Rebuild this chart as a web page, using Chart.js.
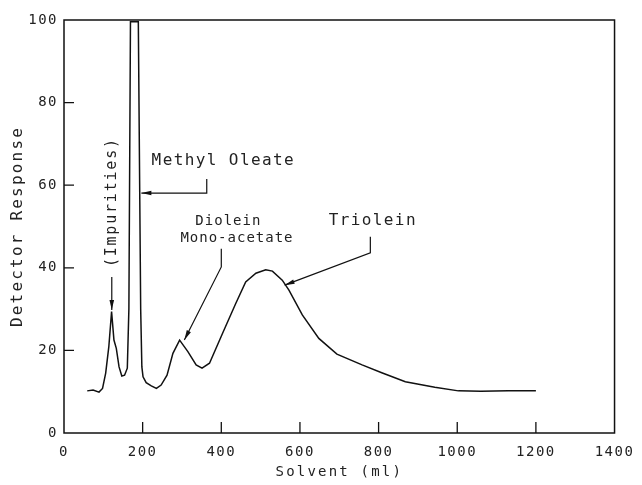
<!DOCTYPE html>
<html><head><meta charset="utf-8">
<script src="https://cdn.jsdelivr.net/npm/chart.js@4.4.0/dist/chart.umd.min.js"></script>
<style>html,body{margin:0;padding:0;background:#fff}#wrap{width:642px;height:485px}</style>
</head><body><div id="wrap"><canvas id="c" width="642" height="485"></canvas></div>
<script>
// ---- data ----
const solventMl = [59, 74, 89, 98, 106, 114, 121, 127, 133, 140, 147, 154, 161, 165, 169, 189, 195, 198, 201, 209, 222, 235, 247, 262, 277, 294, 315, 336, 351, 370, 403, 437, 462, 488, 513, 530, 555, 572, 606, 648, 694, 758, 808, 868, 943, 1003, 1060, 1130, 1200];
const detectorResponse = [10.2, 10.4, 9.9, 10.8, 14.5, 20.9, 29.4, 22.5, 20.5, 16, 13.8, 14, 15.7, 30, 99.6, 99.6, 30, 16, 13.6, 12.2, 11.4, 10.8, 11.6, 14, 19.3, 22.5, 19.7, 16.5, 15.7, 16.9, 24.1, 31.4, 36.6, 38.7, 39.5, 39.2, 37, 34.6, 28.6, 22.9, 19.1, 16.5, 14.6, 12.4, 11.1, 10.2, 10.1, 10.2, 10.2];
const xTickValues = [0, 200, 400, 600, 800, 1000, 1200, 1400];
const yTickValues = [0, 20, 40, 60, 80, 100];
const xAxisTitle = 'Solvent (ml)';
const yAxisTitle = 'Detector Response';
const peakLabels = ['(Impurities)', 'Methyl Oleate', 'Diolein', 'Mono-acetate', 'Triolein'];

// ---- annotation layout (in data units) ----
const MONO = '"DejaVu Sans Mono", "Liberation Mono", monospace';
const INK = '#111';
const TEXT = '#222';
const annotations = [
  {text: peakLabels[0], x: 121.5, y: 55.9, rotate: true, size: 15, spacing: 1.8,
   path: [[121.5, 37.8], [121.5, 29.8]]},
  {text: peakLabels[1], x: 222.8, y: 65.9, size: 16, spacing: 1.4,
   path: [[363, 61.5], [363, 58.1], [196.7, 58.1]]},
  {text: peakLabels[2], x: 334, y: 51.3, size: 14, spacing: 1.0,
   path: [[400, 44.6], [400, 40.2], [306, 22.5]]},
  {text: peakLabels[3], x: 296, y: 47.2, size: 14, spacing: 1.0},
  {text: peakLabels[4], x: 673, y: 51.3, size: 16, spacing: 1.4,
   path: [[779, 47.5], [779, 43.6], [561, 35.8]]}
];

const spacingPlugin = {
  id: 'spacing',
  beforeDraw(chart) { chart.ctx.letterSpacing = '2.2px'; },
  afterDatasetsDraw(chart) { chart.ctx.letterSpacing = '1.5px'; },
  afterDraw(chart) { chart.ctx.letterSpacing = '0px'; }
};

const framePlugin = {
  id: 'frame',
  afterDraw(chart) {
    const {ctx, chartArea: a, scales: {x, y}} = chart;
    ctx.save();
    ctx.letterSpacing = '0px';
    ctx.strokeStyle = INK;
    ctx.lineWidth = 1.5;
    ctx.strokeRect(a.left, a.top, a.right - a.left, a.bottom - a.top);
    ctx.lineWidth = 1.3;
    ctx.beginPath();
    xTickValues.slice(1, -1).forEach(v => {
      const px = x.getPixelForValue(v);
      ctx.moveTo(px, a.bottom); ctx.lineTo(px, a.bottom - 11);
    });
    yTickValues.slice(1, -1).forEach(v => {
      const py = y.getPixelForValue(v);
      ctx.moveTo(a.left, py); ctx.lineTo(a.left + 10, py);
    });
    ctx.stroke();

    // annotations
    annotations.forEach(an => {
      const tx = x.getPixelForValue(an.x), ty = y.getPixelForValue(an.y);
      ctx.save();
      ctx.fillStyle = TEXT;
      ctx.font = an.size + 'px ' + MONO;
      ctx.letterSpacing = an.spacing + 'px';
      ctx.textBaseline = 'middle';
      if (an.rotate) {
        ctx.translate(tx, ty);
        ctx.rotate(-Math.PI / 2);
        ctx.textAlign = 'center';
        ctx.fillText(an.text, 0, 0);
      } else {
        ctx.textAlign = 'left';
        ctx.fillText(an.text, tx, ty);
      }
      ctx.restore();
      if (an.path) {
        const pts = an.path.map(p => [x.getPixelForValue(p[0]), y.getPixelForValue(p[1])]);
        ctx.beginPath();
        ctx.moveTo(pts[0][0], pts[0][1]);
        pts.slice(1).forEach(p => ctx.lineTo(p[0], p[1]));
        ctx.lineWidth = 1.2;
        ctx.stroke();
        const [ex, ey] = pts[pts.length - 1];
        const [sx, sy] = pts[pts.length - 2];
        const ang = Math.atan2(ey - sy, ex - sx);
        const L = 10, W = 2.3;
        ctx.beginPath();
        ctx.moveTo(ex, ey);
        ctx.lineTo(ex - L * Math.cos(ang) + W * Math.sin(ang), ey - L * Math.sin(ang) - W * Math.cos(ang));
        ctx.lineTo(ex - L * Math.cos(ang) - W * Math.sin(ang), ey - L * Math.sin(ang) + W * Math.cos(ang));
        ctx.closePath();
        ctx.fillStyle = INK;
        ctx.fill();
      }
    });
    ctx.restore();
  }
};

new Chart(document.getElementById('c'), {
  type: 'scatter',
  data: {
    datasets: [{
      data: solventMl.map((v, i) => ({x: v, y: detectorResponse[i]})),
      showLine: true,
      borderColor: INK,
      borderWidth: 1.5,
      pointRadius: 0,
      tension: 0,
      fill: false
    }]
  },
  options: {
    responsive: false,
    animation: false,
    layout: {padding: {top: 20, right: 25, bottom: 0, left: 0}},
    plugins: {legend: {display: false}, tooltip: {enabled: false}},
    scales: {
      x: {
        type: 'linear', min: 0, max: 1400,
        afterBuildTicks(s) { s.ticks = xTickValues.map(v => ({value: v})); },
        afterFit(s) { s.height = 52; },
        grid: {display: false, drawTicks: false},
        border: {display: false},
        ticks: {z: 1, padding: 10.6, color: TEXT, font: {family: MONO, size: 14}, maxRotation: 0, autoSkip: false,
                callback: v => String(v)},
        title: {display: true, text: xAxisTitle, color: TEXT, font: {family: MONO, size: 14}, padding: {top: 0, bottom: 4.6}}
      },
      y: {
        type: 'linear', min: 0, max: 100,
        afterBuildTicks(s) { s.ticks = yTickValues.map(v => ({value: v})); },
        afterFit(s) { s.width = 64; },
        grid: {display: false, drawTicks: false},
        border: {display: false},
        ticks: {z: 1, padding: 6, color: TEXT, font: {family: MONO, size: 14}, callback: v => String(v)},
        title: {display: true, text: yAxisTitle, color: TEXT, font: {family: MONO, size: 16}, padding: {top: 8.4, bottom: 0}}
      }
    }
  },
  plugins: [spacingPlugin, framePlugin]
});
</script>
</body></html>
